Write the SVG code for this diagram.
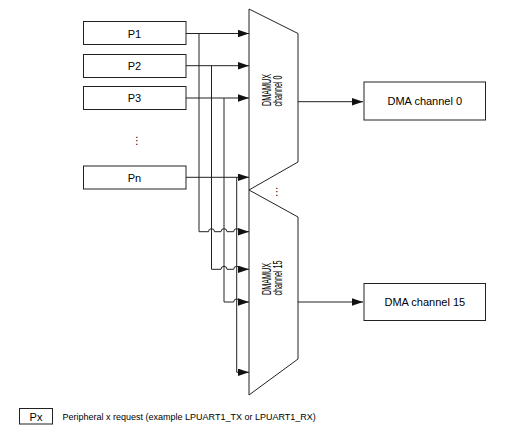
<svg xmlns="http://www.w3.org/2000/svg" width="520" height="433" viewBox="0 0 520 433">
<defs>
<marker id="arr" markerUnits="userSpaceOnUse" markerWidth="12" markerHeight="8" refX="11" refY="3.7" orient="auto">
<path d="M0,0 L11,3.7 L0,7.4 z" fill="#111"/>
</marker>
<style>
.box{fill:#fff;stroke:#222;stroke-width:1}
.mux{fill:#fff;stroke:#222;stroke-width:1}
.ln{fill:none;stroke:#222;stroke-width:1}
.t{font-family:"Liberation Sans",Arial,sans-serif;font-size:11px;fill:#000;text-anchor:middle}
.rt{font-family:"Liberation Sans",Arial,sans-serif;font-size:12px;fill:#000;text-anchor:middle}
.dots{font-family:"DejaVu Sans",sans-serif;font-size:10px;fill:#000;text-anchor:middle}
.lg{font-family:"Liberation Sans",Arial,sans-serif;font-size:9px;fill:#000}
</style>
</defs>
<rect width="520" height="433" fill="#fff"/>
<g id="mux0">
<polygon class="mux" points="249,9 298,33.5 298,162 249,190"/>
<text class="rt" transform="translate(270.5,90) rotate(-90) scale(0.6,1)">DMAMUX</text>
<text class="rt" transform="translate(281.5,91) rotate(-90) scale(0.6,1)">channel 0</text>
</g>
<g id="mux15">
<polygon class="mux" points="249,190 298,217 298,359 249,395"/>
<text class="rt" transform="translate(270.5,279) rotate(-90) scale(0.6,1)">DMAMUX</text>
<text class="rt" transform="translate(281.5,278) rotate(-90) scale(0.6,1)">channel 15</text>
</g>
<text class="dots" x="277" y="195">⋮</text>
<g id="P1"><rect class="box" x="83.5" y="21.5" width="102.5" height="23"/><text class="t" x="134.5" y="37.5">P1</text></g>
<g id="P2"><rect class="box" x="83.5" y="54.5" width="102.5" height="23"/><text class="t" x="134.5" y="70">P2</text></g>
<g id="P3"><rect class="box" x="83.5" y="86.5" width="102.5" height="23"/><text class="t" x="134.5" y="102">P3</text></g>
<text class="dots" x="137" y="144">⋮</text>
<g id="Pn"><rect class="box" x="83.5" y="166" width="102.5" height="23"/><text class="t" x="134.5" y="181.5">Pn</text></g>
<g id="dma0"><rect class="box" x="364" y="82" width="121.5" height="38"/><text class="t" x="424.8" y="105">DMA channel 0</text></g>
<g id="dma15"><rect class="box" x="364" y="283.5" width="121.5" height="37"/><text class="t" x="424.8" y="306">DMA channel 15</text></g>
<g id="connectors">
<path class="ln" marker-end="url(#arr)" d="M186,33.5 H249"/>
<path class="ln" marker-end="url(#arr)" d="M186,65.7 H249"/>
<path class="ln" marker-end="url(#arr)" d="M186,98 H249"/>
<path class="ln" marker-end="url(#arr)" d="M186,177.3 H249"/>
<path class="ln" marker-end="url(#arr)" d="M199,33.5 V231.7 H208.5 a3,3 0 0 1 6,0 H221 a3,3 0 0 1 6,0 H233.7 a3,3 0 0 1 6,0 H249"/>
<path class="ln" marker-end="url(#arr)" d="M211.5,65.7 V269.3 H221 a3,3 0 0 1 6,0 H233.7 a3,3 0 0 1 6,0 H249"/>
<path class="ln" marker-end="url(#arr)" d="M224,98 V302 H233.7 a3,3 0 0 1 6,0 H249"/>
<path class="ln" marker-end="url(#arr)" d="M236.7,177.3 V372.3 H249"/>
<path class="ln" marker-end="url(#arr)" d="M298,101.7 H363"/>
<path class="ln" marker-end="url(#arr)" d="M298,302 H363"/>
</g>
<g id="legend">
<rect class="box" x="19.5" y="408.5" width="33" height="15.5"/>
<text class="t" x="36" y="420.5">Px</text>
<text class="lg" x="62.5" y="419.5">Peripheral x request (example LPUART1_TX or LPUART1_RX)</text>
</g>
</svg>
